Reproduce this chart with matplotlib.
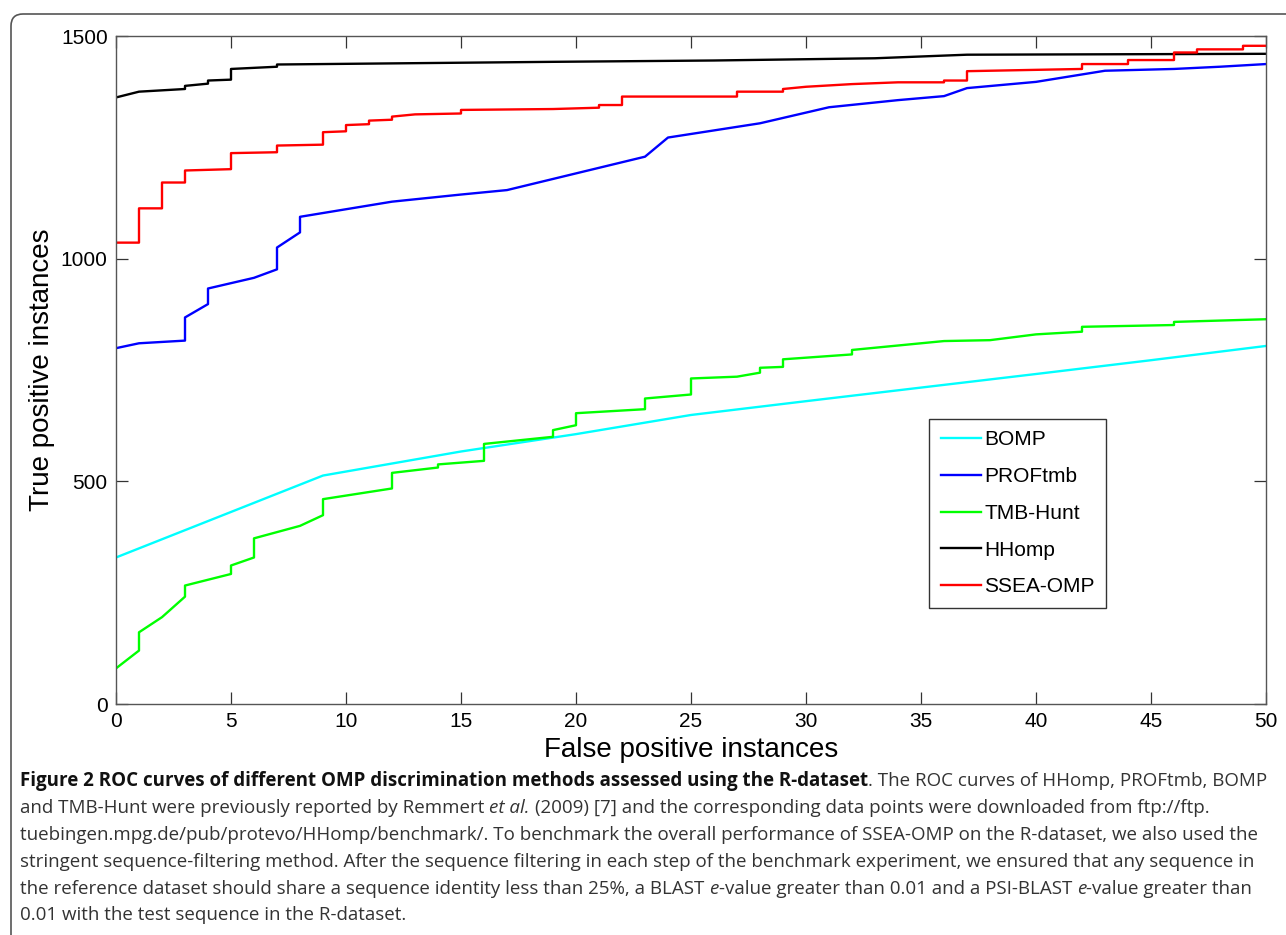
import matplotlib
matplotlib.use("Agg")
import matplotlib.pyplot as plt
from matplotlib.patches import FancyBboxPatch
from matplotlib.transforms import IdentityTransform

# ROC data: (false positives, true positives)
bomp = [(0, 329), (9, 513), (15, 567), (20, 606), (25, 649), (30, 680),
        (40, 741), (45, 772), (50, 804)]
proftmb = [(0, 799), (1, 810), (3, 816), (3, 868), (4, 898), (4, 933),
           (6, 957), (7, 976), (7, 1025), (8, 1059), (8, 1094), (12, 1128),
           (15, 1144), (17, 1154), (23, 1229), (24, 1272), (28, 1304),
           (31, 1340), (34, 1356), (36, 1365), (37, 1383), (40, 1397),
           (43, 1422), (46, 1426), (48, 1431), (50, 1437)]
tmbhunt = [(0, 80), (1, 120), (1, 161), (2, 195), (3, 241), (3, 266),
           (5, 292), (5, 311), (6, 329), (6, 372), (8, 400), (9, 424),
           (9, 460), (12, 484), (12, 519), (14, 531), (14, 538), (16, 546),
           (16, 584), (19, 600), (19, 615), (20, 626), (20, 653), (23, 662),
           (23, 686), (25, 695), (25, 731), (27, 735), (28, 744), (28, 755),
           (29, 757), (29, 774), (32, 785), (32, 795), (36, 815), (38, 817),
           (40, 830), (42, 836), (42, 847), (46, 851), (46, 858), (50, 864)]
hhomp = [(0, 1362), (1, 1375), (3, 1381), (3, 1388), (4, 1393), (4, 1400),
         (5, 1402), (5, 1426), (7, 1431), (7, 1436), (19, 1442), (26, 1445),
         (33, 1450), (37, 1458), (50, 1460)]
ssea = [(0, 1036), (1, 1036), (1, 1113), (2, 1113), (2, 1171), (3, 1171),
        (3, 1198), (5, 1201), (5, 1237), (7, 1239), (7, 1254), (9, 1256),
        (9, 1284), (10, 1286), (10, 1300), (11, 1302), (11, 1310), (12, 1312),
        (12, 1319), (13, 1324), (15, 1326), (15, 1334), (19, 1336), (21, 1339),
        (21, 1345), (22, 1345), (22, 1364), (27, 1364), (27, 1375), (29, 1375),
        (29, 1381), (30, 1386), (32, 1392), (34, 1396), (36, 1396), (36, 1400),
        (37, 1400), (37, 1421), (40, 1424), (42, 1426), (42, 1437), (44, 1437),
        (44, 1446), (46, 1446), (46, 1463), (47, 1463), (47, 1470), (49, 1470),
        (49, 1478), (50, 1478)]

series = [("BOMP", bomp, "#00ffff"),
          ("PROFtmb", proftmb, "#0000ff"),
          ("TMB-Hunt", tmbhunt, "#00ff00"),
          ("HHomp", hhomp, "#000000"),
          ("SSEA-OMP", ssea, "#ff0000")]

caption = [
    [("Figure 2 ROC curves of different OMP discrimination methods assessed using the R-dataset", "bold", "normal"),
     (". The ROC curves of HHomp, PROFtmb, BOMP", "normal", "normal")],
    [("and TMB-Hunt were previously reported by Remmert", "normal", "normal"),
     (" et al.", "normal", "italic"),
     (" (2009) [7] and the corresponding data points were downloaded from ftp://ftp.", "normal", "normal")],
    [("tuebingen.mpg.de/pub/protevo/HHomp/benchmark/. To benchmark the overall performance of SSEA-OMP on the R-dataset, we also used the", "normal", "normal")],
    [("stringent sequence-filtering method. After the sequence filtering in each step of the benchmark experiment, we ensured that any sequence in", "normal", "normal")],
    [("the reference dataset should share a sequence identity less than 25%, a BLAST", "normal", "normal"),
     (" e", "normal", "italic"),
     ("-value greater than 0.01 and a PSI-BLAST", "normal", "normal"),
     (" e", "normal", "italic"),
     ("-value greater than", "normal", "normal")],
    [("0.01 with the test sequence in the R-dataset.", "normal", "normal")],
]

W, H = 1286, 935
plt.rcParams["font.family"] = ["Liberation Sans", "DejaVu Sans"]
fig = plt.figure(figsize=(W / 100, H / 100), dpi=100)

# rounded frame around the figure panel
frame = FancyBboxPatch((11, -40), W + 60, H - 14 + 40,
                       boxstyle="round,pad=0,rounding_size=12",
                       transform=IdentityTransform(), fill=False,
                       edgecolor="#555555", linewidth=1.2)
fig.patches.append(frame)

ax = fig.add_axes([116 / W, 1 - 704 / H, 1150 / W, 668 / H])
for name, pts, col in series:
    fp = [p[0] for p in pts]
    tp = [p[1] for p in pts]
    ax.plot(fp, tp, color=col, lw=1.7, label=name)

ax.set_xlim(0, 50)
ax.set_ylim(0, 1500)
ax.set_xticks(range(0, 51, 5))
ax.set_yticks([0, 500, 1000, 1500])
ax.tick_params(direction="in", length=8.6, width=0.9, labelsize=15,
               top=True, right=True, pad=6, color="#333333")
for s in ax.spines.values():
    s.set_color("#555555")
    s.set_linewidth(1.0)
ax.set_xlabel("False positive instances", fontsize=20, labelpad=4)
ax.set_ylabel("True positive instances", fontsize=20, labelpad=4)

leg = ax.legend(loc="upper left", bbox_to_anchor=(0.707, 0.4266),
                borderaxespad=0, fontsize=15, fancybox=False, framealpha=1,
                edgecolor="#333333", handlelength=1.95, handletextpad=0.15,
                labelspacing=0.85, borderpad=0.55)
leg.get_frame().set_linewidth(1.0)

# caption, drawn piece by piece so bold / italic runs can be mixed
renderer = fig.canvas.get_renderer()
cap_font = ["Open Sans", "DejaVu Sans"]
cap_size = 13.5
probe = fig.text(0, 0, "x x", fontsize=cap_size, family=cap_font)
w2 = probe.get_window_extent(renderer).width
probe.set_text("xx")
space_w = w2 - probe.get_window_extent(renderer).width
probe.remove()

line_y = [786, 813, 840, 867, 894, 920]
for parts, yp in zip(caption, line_y):
    x = 20.0
    for txt, weight, style in parts:
        if txt.startswith(" "):
            x += space_w
            txt = txt[1:]
        t = fig.text(x / W, 1 - yp / H, txt, fontsize=cap_size, family=cap_font,
                     weight=weight, style=style, va="baseline",
                     color="#111111" if weight == "bold" else "#333333")
        x += t.get_window_extent(renderer).width

fig.savefig("out.png", dpi=100)
